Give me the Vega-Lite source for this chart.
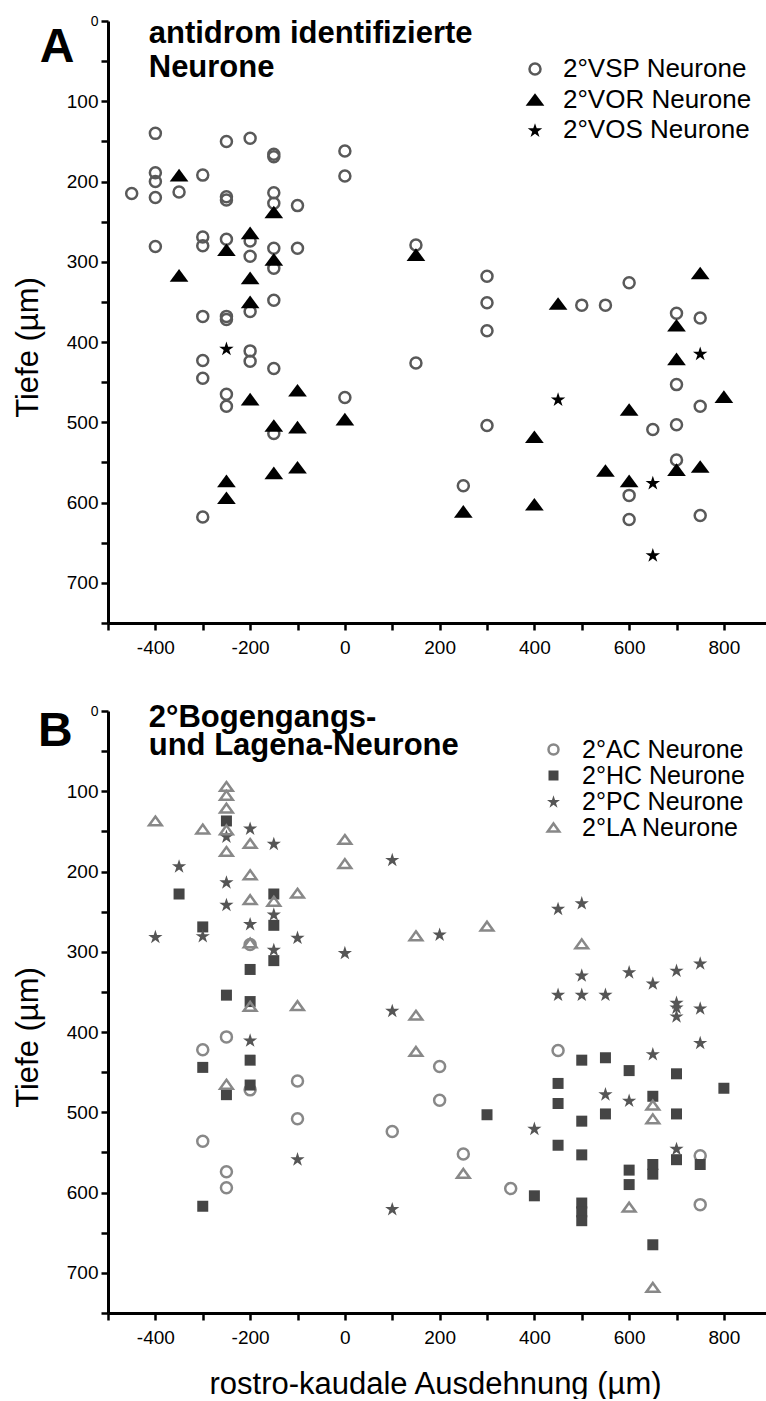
{
  "$schema": "https://vega.github.io/schema/vega-lite/v6.json",
  "padding": {"left": 12, "top": 14, "right": 0, "bottom": 0},
  "background": "#ffffff",
  "spacing": 88,
  "bounds": "flush",
  "config": {
    "font": "Liberation Sans",
    "view": {"stroke": null},
    "axis": {
      "domainColor": "#000000",
      "domainWidth": 3,
      "tickColor": "#000000",
      "tickWidth": 2.5,
      "tickSize": 7,
      "labelColor": "#000000",
      "labelFont": "Liberation Sans",
      "labelFontSize": 19,
      "labelFlush": false,
      "labelOverlap": false,
      "titleColor": "#000000",
      "titleFont": "Liberation Sans",
      "titleFontWeight": "normal",
      "titleFontSize": 31,
      "grid": false
    },
    "legend": {
      "labelColor": "#000000",
      "labelFont": "Liberation Sans",
      "labelLimit": 400
    }
  },
  "datasets": {
    "panelA": [
      {"rk": -450, "tiefe": 215, "typ": "2°VSP Neurone"},
      {"rk": -400, "tiefe": 140, "typ": "2°VSP Neurone"},
      {"rk": -400, "tiefe": 189, "typ": "2°VSP Neurone"},
      {"rk": -400, "tiefe": 200, "typ": "2°VSP Neurone"},
      {"rk": -400, "tiefe": 220, "typ": "2°VSP Neurone"},
      {"rk": -400, "tiefe": 281, "typ": "2°VSP Neurone"},
      {"rk": -350, "tiefe": 213, "typ": "2°VSP Neurone"},
      {"rk": -300, "tiefe": 192, "typ": "2°VSP Neurone"},
      {"rk": -300, "tiefe": 269, "typ": "2°VSP Neurone"},
      {"rk": -300, "tiefe": 280, "typ": "2°VSP Neurone"},
      {"rk": -300, "tiefe": 368, "typ": "2°VSP Neurone"},
      {"rk": -300, "tiefe": 423, "typ": "2°VSP Neurone"},
      {"rk": -300, "tiefe": 445, "typ": "2°VSP Neurone"},
      {"rk": -300, "tiefe": 618, "typ": "2°VSP Neurone"},
      {"rk": -250, "tiefe": 150, "typ": "2°VSP Neurone"},
      {"rk": -250, "tiefe": 219, "typ": "2°VSP Neurone"},
      {"rk": -250, "tiefe": 223, "typ": "2°VSP Neurone"},
      {"rk": -250, "tiefe": 272, "typ": "2°VSP Neurone"},
      {"rk": -250, "tiefe": 368, "typ": "2°VSP Neurone"},
      {"rk": -250, "tiefe": 372, "typ": "2°VSP Neurone"},
      {"rk": -250, "tiefe": 465, "typ": "2°VSP Neurone"},
      {"rk": -250, "tiefe": 480, "typ": "2°VSP Neurone"},
      {"rk": -200, "tiefe": 146, "typ": "2°VSP Neurone"},
      {"rk": -200, "tiefe": 274, "typ": "2°VSP Neurone"},
      {"rk": -200, "tiefe": 293, "typ": "2°VSP Neurone"},
      {"rk": -200, "tiefe": 362, "typ": "2°VSP Neurone"},
      {"rk": -200, "tiefe": 411, "typ": "2°VSP Neurone"},
      {"rk": -200, "tiefe": 424, "typ": "2°VSP Neurone"},
      {"rk": -150, "tiefe": 166, "typ": "2°VSP Neurone"},
      {"rk": -150, "tiefe": 169, "typ": "2°VSP Neurone"},
      {"rk": -150, "tiefe": 214, "typ": "2°VSP Neurone"},
      {"rk": -150, "tiefe": 227, "typ": "2°VSP Neurone"},
      {"rk": -150, "tiefe": 283, "typ": "2°VSP Neurone"},
      {"rk": -150, "tiefe": 308, "typ": "2°VSP Neurone"},
      {"rk": -150, "tiefe": 348, "typ": "2°VSP Neurone"},
      {"rk": -150, "tiefe": 433, "typ": "2°VSP Neurone"},
      {"rk": -150, "tiefe": 514, "typ": "2°VSP Neurone"},
      {"rk": -100, "tiefe": 230, "typ": "2°VSP Neurone"},
      {"rk": -100, "tiefe": 283, "typ": "2°VSP Neurone"},
      {"rk": 0, "tiefe": 162, "typ": "2°VSP Neurone"},
      {"rk": 0, "tiefe": 193, "typ": "2°VSP Neurone"},
      {"rk": 0, "tiefe": 469, "typ": "2°VSP Neurone"},
      {"rk": 150, "tiefe": 279, "typ": "2°VSP Neurone"},
      {"rk": 150, "tiefe": 426, "typ": "2°VSP Neurone"},
      {"rk": 250, "tiefe": 579, "typ": "2°VSP Neurone"},
      {"rk": 300, "tiefe": 318, "typ": "2°VSP Neurone"},
      {"rk": 300, "tiefe": 351, "typ": "2°VSP Neurone"},
      {"rk": 300, "tiefe": 386, "typ": "2°VSP Neurone"},
      {"rk": 300, "tiefe": 504, "typ": "2°VSP Neurone"},
      {"rk": 500, "tiefe": 354, "typ": "2°VSP Neurone"},
      {"rk": 550, "tiefe": 354, "typ": "2°VSP Neurone"},
      {"rk": 600, "tiefe": 326, "typ": "2°VSP Neurone"},
      {"rk": 600, "tiefe": 591, "typ": "2°VSP Neurone"},
      {"rk": 600, "tiefe": 621, "typ": "2°VSP Neurone"},
      {"rk": 650, "tiefe": 509, "typ": "2°VSP Neurone"},
      {"rk": 700, "tiefe": 364, "typ": "2°VSP Neurone"},
      {"rk": 700, "tiefe": 453, "typ": "2°VSP Neurone"},
      {"rk": 700, "tiefe": 503, "typ": "2°VSP Neurone"},
      {"rk": 700, "tiefe": 547, "typ": "2°VSP Neurone"},
      {"rk": 750, "tiefe": 370, "typ": "2°VSP Neurone"},
      {"rk": 750, "tiefe": 480, "typ": "2°VSP Neurone"},
      {"rk": 750, "tiefe": 616, "typ": "2°VSP Neurone"},
      {"rk": -350, "tiefe": 192, "typ": "2°VOR Neurone"},
      {"rk": -350, "tiefe": 317, "typ": "2°VOR Neurone"},
      {"rk": -250, "tiefe": 285, "typ": "2°VOR Neurone"},
      {"rk": -250, "tiefe": 573, "typ": "2°VOR Neurone"},
      {"rk": -250, "tiefe": 594, "typ": "2°VOR Neurone"},
      {"rk": -200, "tiefe": 264, "typ": "2°VOR Neurone"},
      {"rk": -200, "tiefe": 320, "typ": "2°VOR Neurone"},
      {"rk": -200, "tiefe": 350, "typ": "2°VOR Neurone"},
      {"rk": -200, "tiefe": 471, "typ": "2°VOR Neurone"},
      {"rk": -150, "tiefe": 238, "typ": "2°VOR Neurone"},
      {"rk": -150, "tiefe": 297, "typ": "2°VOR Neurone"},
      {"rk": -150, "tiefe": 504, "typ": "2°VOR Neurone"},
      {"rk": -150, "tiefe": 563, "typ": "2°VOR Neurone"},
      {"rk": -100, "tiefe": 460, "typ": "2°VOR Neurone"},
      {"rk": -100, "tiefe": 506, "typ": "2°VOR Neurone"},
      {"rk": -100, "tiefe": 556, "typ": "2°VOR Neurone"},
      {"rk": 0, "tiefe": 496, "typ": "2°VOR Neurone"},
      {"rk": 150, "tiefe": 291, "typ": "2°VOR Neurone"},
      {"rk": 250, "tiefe": 611, "typ": "2°VOR Neurone"},
      {"rk": 400, "tiefe": 518, "typ": "2°VOR Neurone"},
      {"rk": 400, "tiefe": 602, "typ": "2°VOR Neurone"},
      {"rk": 450, "tiefe": 352, "typ": "2°VOR Neurone"},
      {"rk": 550, "tiefe": 560, "typ": "2°VOR Neurone"},
      {"rk": 600, "tiefe": 484, "typ": "2°VOR Neurone"},
      {"rk": 600, "tiefe": 573, "typ": "2°VOR Neurone"},
      {"rk": 700, "tiefe": 379, "typ": "2°VOR Neurone"},
      {"rk": 700, "tiefe": 421, "typ": "2°VOR Neurone"},
      {"rk": 700, "tiefe": 559, "typ": "2°VOR Neurone"},
      {"rk": 750, "tiefe": 314, "typ": "2°VOR Neurone"},
      {"rk": 750, "tiefe": 555, "typ": "2°VOR Neurone"},
      {"rk": 800, "tiefe": 468, "typ": "2°VOR Neurone"},
      {"rk": -250, "tiefe": 408, "typ": "2°VOS Neurone"},
      {"rk": 450, "tiefe": 471, "typ": "2°VOS Neurone"},
      {"rk": 650, "tiefe": 575, "typ": "2°VOS Neurone"},
      {"rk": 650, "tiefe": 665, "typ": "2°VOS Neurone"},
      {"rk": 750, "tiefe": 414, "typ": "2°VOS Neurone"}
    ],
    "panelB": [
      {"rk": -300, "tiefe": 422, "typ": "2°AC Neurone"},
      {"rk": -300, "tiefe": 536, "typ": "2°AC Neurone"},
      {"rk": -250, "tiefe": 406, "typ": "2°AC Neurone"},
      {"rk": -250, "tiefe": 574, "typ": "2°AC Neurone"},
      {"rk": -250, "tiefe": 594, "typ": "2°AC Neurone"},
      {"rk": -200, "tiefe": 291, "typ": "2°AC Neurone"},
      {"rk": -200, "tiefe": 472, "typ": "2°AC Neurone"},
      {"rk": -100, "tiefe": 461, "typ": "2°AC Neurone"},
      {"rk": -100, "tiefe": 508, "typ": "2°AC Neurone"},
      {"rk": 100, "tiefe": 524, "typ": "2°AC Neurone"},
      {"rk": 200, "tiefe": 443, "typ": "2°AC Neurone"},
      {"rk": 200, "tiefe": 485, "typ": "2°AC Neurone"},
      {"rk": 250, "tiefe": 552, "typ": "2°AC Neurone"},
      {"rk": 350, "tiefe": 595, "typ": "2°AC Neurone"},
      {"rk": 450, "tiefe": 423, "typ": "2°AC Neurone"},
      {"rk": 750, "tiefe": 554, "typ": "2°AC Neurone"},
      {"rk": 750, "tiefe": 615, "typ": "2°AC Neurone"},
      {"rk": -350, "tiefe": 228, "typ": "2°HC Neurone"},
      {"rk": -300, "tiefe": 269, "typ": "2°HC Neurone"},
      {"rk": -300, "tiefe": 444, "typ": "2°HC Neurone"},
      {"rk": -300, "tiefe": 617, "typ": "2°HC Neurone"},
      {"rk": -250, "tiefe": 137, "typ": "2°HC Neurone"},
      {"rk": -250, "tiefe": 354, "typ": "2°HC Neurone"},
      {"rk": -250, "tiefe": 478, "typ": "2°HC Neurone"},
      {"rk": -200, "tiefe": 322, "typ": "2°HC Neurone"},
      {"rk": -200, "tiefe": 362, "typ": "2°HC Neurone"},
      {"rk": -200, "tiefe": 435, "typ": "2°HC Neurone"},
      {"rk": -200, "tiefe": 466, "typ": "2°HC Neurone"},
      {"rk": -150, "tiefe": 228, "typ": "2°HC Neurone"},
      {"rk": -150, "tiefe": 267, "typ": "2°HC Neurone"},
      {"rk": -150, "tiefe": 311, "typ": "2°HC Neurone"},
      {"rk": 300, "tiefe": 503, "typ": "2°HC Neurone"},
      {"rk": 400, "tiefe": 604, "typ": "2°HC Neurone"},
      {"rk": 450, "tiefe": 464, "typ": "2°HC Neurone"},
      {"rk": 450, "tiefe": 489, "typ": "2°HC Neurone"},
      {"rk": 450, "tiefe": 541, "typ": "2°HC Neurone"},
      {"rk": 500, "tiefe": 435, "typ": "2°HC Neurone"},
      {"rk": 500, "tiefe": 511, "typ": "2°HC Neurone"},
      {"rk": 500, "tiefe": 553, "typ": "2°HC Neurone"},
      {"rk": 500, "tiefe": 613, "typ": "2°HC Neurone"},
      {"rk": 500, "tiefe": 624, "typ": "2°HC Neurone"},
      {"rk": 500, "tiefe": 635, "typ": "2°HC Neurone"},
      {"rk": 550, "tiefe": 432, "typ": "2°HC Neurone"},
      {"rk": 550, "tiefe": 502, "typ": "2°HC Neurone"},
      {"rk": 600, "tiefe": 448, "typ": "2°HC Neurone"},
      {"rk": 600, "tiefe": 572, "typ": "2°HC Neurone"},
      {"rk": 600, "tiefe": 590, "typ": "2°HC Neurone"},
      {"rk": 650, "tiefe": 480, "typ": "2°HC Neurone"},
      {"rk": 650, "tiefe": 565, "typ": "2°HC Neurone"},
      {"rk": 650, "tiefe": 577, "typ": "2°HC Neurone"},
      {"rk": 650, "tiefe": 665, "typ": "2°HC Neurone"},
      {"rk": 700, "tiefe": 452, "typ": "2°HC Neurone"},
      {"rk": 700, "tiefe": 502, "typ": "2°HC Neurone"},
      {"rk": 700, "tiefe": 559, "typ": "2°HC Neurone"},
      {"rk": 750, "tiefe": 565, "typ": "2°HC Neurone"},
      {"rk": 800, "tiefe": 470, "typ": "2°HC Neurone"},
      {"rk": -400, "tiefe": 281, "typ": "2°PC Neurone"},
      {"rk": -350, "tiefe": 193, "typ": "2°PC Neurone"},
      {"rk": -300, "tiefe": 280, "typ": "2°PC Neurone"},
      {"rk": -250, "tiefe": 156, "typ": "2°PC Neurone"},
      {"rk": -250, "tiefe": 213, "typ": "2°PC Neurone"},
      {"rk": -250, "tiefe": 241, "typ": "2°PC Neurone"},
      {"rk": -200, "tiefe": 146, "typ": "2°PC Neurone"},
      {"rk": -200, "tiefe": 265, "typ": "2°PC Neurone"},
      {"rk": -200, "tiefe": 410, "typ": "2°PC Neurone"},
      {"rk": -150, "tiefe": 165, "typ": "2°PC Neurone"},
      {"rk": -150, "tiefe": 253, "typ": "2°PC Neurone"},
      {"rk": -150, "tiefe": 297, "typ": "2°PC Neurone"},
      {"rk": -100, "tiefe": 282, "typ": "2°PC Neurone"},
      {"rk": -100, "tiefe": 558, "typ": "2°PC Neurone"},
      {"rk": 0, "tiefe": 301, "typ": "2°PC Neurone"},
      {"rk": 100, "tiefe": 185, "typ": "2°PC Neurone"},
      {"rk": 100, "tiefe": 373, "typ": "2°PC Neurone"},
      {"rk": 100, "tiefe": 620, "typ": "2°PC Neurone"},
      {"rk": 200, "tiefe": 278, "typ": "2°PC Neurone"},
      {"rk": 400, "tiefe": 520, "typ": "2°PC Neurone"},
      {"rk": 450, "tiefe": 246, "typ": "2°PC Neurone"},
      {"rk": 450, "tiefe": 353, "typ": "2°PC Neurone"},
      {"rk": 500, "tiefe": 239, "typ": "2°PC Neurone"},
      {"rk": 500, "tiefe": 329, "typ": "2°PC Neurone"},
      {"rk": 500, "tiefe": 353, "typ": "2°PC Neurone"},
      {"rk": 550, "tiefe": 353, "typ": "2°PC Neurone"},
      {"rk": 550, "tiefe": 477, "typ": "2°PC Neurone"},
      {"rk": 600, "tiefe": 325, "typ": "2°PC Neurone"},
      {"rk": 600, "tiefe": 485, "typ": "2°PC Neurone"},
      {"rk": 650, "tiefe": 339, "typ": "2°PC Neurone"},
      {"rk": 650, "tiefe": 427, "typ": "2°PC Neurone"},
      {"rk": 700, "tiefe": 323, "typ": "2°PC Neurone"},
      {"rk": 700, "tiefe": 363, "typ": "2°PC Neurone"},
      {"rk": 700, "tiefe": 369, "typ": "2°PC Neurone"},
      {"rk": 700, "tiefe": 380, "typ": "2°PC Neurone"},
      {"rk": 700, "tiefe": 545, "typ": "2°PC Neurone"},
      {"rk": 750, "tiefe": 314, "typ": "2°PC Neurone"},
      {"rk": 750, "tiefe": 370, "typ": "2°PC Neurone"},
      {"rk": 750, "tiefe": 413, "typ": "2°PC Neurone"},
      {"rk": -400, "tiefe": 137, "typ": "2°LA Neurone"},
      {"rk": -300, "tiefe": 147, "typ": "2°LA Neurone"},
      {"rk": -250, "tiefe": 94, "typ": "2°LA Neurone"},
      {"rk": -250, "tiefe": 105, "typ": "2°LA Neurone"},
      {"rk": -250, "tiefe": 121, "typ": "2°LA Neurone"},
      {"rk": -250, "tiefe": 148, "typ": "2°LA Neurone"},
      {"rk": -250, "tiefe": 175, "typ": "2°LA Neurone"},
      {"rk": -250, "tiefe": 465, "typ": "2°LA Neurone"},
      {"rk": -200, "tiefe": 165, "typ": "2°LA Neurone"},
      {"rk": -200, "tiefe": 204, "typ": "2°LA Neurone"},
      {"rk": -200, "tiefe": 235, "typ": "2°LA Neurone"},
      {"rk": -200, "tiefe": 289, "typ": "2°LA Neurone"},
      {"rk": -200, "tiefe": 368, "typ": "2°LA Neurone"},
      {"rk": -150, "tiefe": 237, "typ": "2°LA Neurone"},
      {"rk": -100, "tiefe": 227, "typ": "2°LA Neurone"},
      {"rk": -100, "tiefe": 367, "typ": "2°LA Neurone"},
      {"rk": 0, "tiefe": 160, "typ": "2°LA Neurone"},
      {"rk": 0, "tiefe": 190, "typ": "2°LA Neurone"},
      {"rk": 150, "tiefe": 280, "typ": "2°LA Neurone"},
      {"rk": 150, "tiefe": 379, "typ": "2°LA Neurone"},
      {"rk": 150, "tiefe": 424, "typ": "2°LA Neurone"},
      {"rk": 250, "tiefe": 576, "typ": "2°LA Neurone"},
      {"rk": 300, "tiefe": 268, "typ": "2°LA Neurone"},
      {"rk": 500, "tiefe": 290, "typ": "2°LA Neurone"},
      {"rk": 600, "tiefe": 618, "typ": "2°LA Neurone"},
      {"rk": 650, "tiefe": 491, "typ": "2°LA Neurone"},
      {"rk": 650, "tiefe": 508, "typ": "2°LA Neurone"},
      {"rk": 650, "tiefe": 718, "typ": "2°LA Neurone"}
    ]
  },
  "resolve": {
    "scale": {"shape": "independent", "fill": "independent", "stroke": "independent"},
    "legend": {"shape": "independent", "fill": "independent", "stroke": "independent"}
  },
  "vconcat": [
    {
      "width": 659,
      "height": 602,
      "layer": [
        {
          "data": {"name": "panelA"},
          "mark": {"type": "point", "size": 121, "strokeWidth": 2.5, "opacity": 1},
          "encoding": {
            "x": {
              "field": "rk", "type": "quantitative",
              "scale": {"domain": [-500, 891], "nice": false, "zero": false},
              "axis": {
                "title": null,
                "values": [-500, -400, -300, -200, -100, 0, 100, 200, 300, 400, 500, 600, 700, 800],
                "labelExpr": "datum.value % 200 === 0 ? '' + datum.value : ''",
                "labelPadding": 8
              }
            },
            "y": {
              "field": "tiefe", "type": "quantitative",
              "scale": {"domain": [0, 750], "reverse": true, "nice": false, "zero": false},
              "axis": {
                "title": "Tiefe (µm)",
                "values": [0, 50, 100, 150, 200, 250, 300, 350, 400, 450, 500, 550, 600, 650, 700, 750],
                "labelExpr": "datum.value % 100 === 0 && datum.value < 750 ? '' + datum.value : ''",
                "labelFontSize": {"condition": {"test": "datum.value === 0", "value": 14}, "value": 19},
                "labelPadding": 3,
                "titleAngle": -90, "titleAlign": "center", "titleBaseline": "middle",
                "titleX": -80, "titleY": 326
              }
            },
            "shape": {
              "field": "typ", "type": "nominal",
              "scale": {
                "domain": ["2°VSP Neurone", "2°VOR Neurone", "2°VOS Neurone"],
                "range": [
                  "circle",
                  "M0,-1.15L1.7,1.15L-1.7,1.15Z",
                  "M0,-1.25L0.311,-0.296L1.315,-0.296L0.502,0.296L0.813,1.25L0,0.661L-0.813,1.25L-0.502,0.296L-1.315,-0.296L-0.311,-0.296Z"
                ]
              },
              "legend": {
                "title": null, "orient": "none", "legendX": 414, "legendY": 35,
                "labelFontSize": 26, "labelOffset": 15, "rowPadding": 4.5,
                "symbolSize": 121, "symbolStrokeWidth": 2.5
              }
            },
            "fill": {
              "field": "typ", "type": "nominal",
              "scale": {"domain": ["2°VSP Neurone", "2°VOR Neurone", "2°VOS Neurone"], "range": ["transparent", "#000000", "#000000"]}
            },
            "stroke": {
              "field": "typ", "type": "nominal",
              "scale": {"domain": ["2°VSP Neurone", "2°VOR Neurone", "2°VOS Neurone"], "range": ["#595959", "transparent", "transparent"]}
            }
          }
        },
        {
          "data": {"values": [{}]},
          "mark": {
            "type": "text", "text": "A",
            "align": "left", "baseline": "alphabetic",
            "font": "Liberation Sans", "fontSize": 48, "fontWeight": "bold", "color": "#000000"
          },
          "encoding": {
            "x": {"datum": -644, "type": "quantitative"},
            "y": {"datum": 51, "type": "quantitative"}
          }
        },
        {
          "data": {"values": [{}]},
          "mark": {
            "type": "text", "text": ["antidrom identifizierte", "Neurone"],
            "align": "left", "baseline": "alphabetic", "lineHeight": 34,
            "font": "Liberation Sans", "fontSize": 31, "fontWeight": "bold", "color": "#000000"
          },
          "encoding": {
            "x": {"datum": -414, "type": "quantitative"},
            "y": {"datum": 27.5, "type": "quantitative"}
          }
        }
      ]
    },
    {
      "width": 659,
      "height": 602,
      "layer": [
        {
          "data": {"name": "panelB"},
          "mark": {"type": "point", "size": 121, "strokeWidth": 2.5, "opacity": 1},
          "encoding": {
            "x": {
              "field": "rk", "type": "quantitative",
              "scale": {"domain": [-500, 891], "nice": false, "zero": false},
              "axis": {
                "title": "rostro-kaudale Ausdehnung (µm)",
                "values": [-500, -400, -300, -200, -100, 0, 100, 200, 300, 400, 500, 600, 700, 800],
                "labelExpr": "datum.value % 200 === 0 ? '' + datum.value : ''",
                "labelPadding": 8,
                "titleFontSize": 31,
                "titleAlign": "center", "titleBaseline": "alphabetic",
                "titleX": 327, "titleY": 80
              }
            },
            "y": {
              "field": "tiefe", "type": "quantitative",
              "scale": {"domain": [0, 750], "reverse": true, "nice": false, "zero": false},
              "axis": {
                "title": "Tiefe (µm)",
                "values": [0, 50, 100, 150, 200, 250, 300, 350, 400, 450, 500, 550, 600, 650, 700, 750],
                "labelExpr": "datum.value % 100 === 0 && datum.value < 750 ? '' + datum.value : ''",
                "labelFontSize": {"condition": {"test": "datum.value === 0", "value": 14}, "value": 19},
                "labelPadding": 3,
                "titleAngle": -90, "titleAlign": "center", "titleBaseline": "middle",
                "titleX": -80, "titleY": 326
              }
            },
            "shape": {
              "field": "typ", "type": "nominal",
              "scale": {
                "domain": ["2°AC Neurone", "2°HC Neurone", "2°PC Neurone", "2°LA Neurone"],
                "range": [
                  "circle",
                  "square",
                  "M0,-1.23L0.306,-0.29L1.293,-0.29L0.493,0.29L0.8,1.23L0,0.649L-0.8,1.23L-0.493,0.29L-1.293,-0.29L-0.306,-0.29Z",
                  "M0,-0.8L1.15,0.8L-1.15,0.8Z"
                ]
              },
              "legend": {
                "title": null, "orient": "none", "legendX": 433, "legendY": 26,
                "labelFontSize": 25, "labelOffset": 16, "rowPadding": -0.5,
                "symbolSize": 100, "symbolStrokeWidth": 2.5
              }
            },
            "fill": {
              "field": "typ", "type": "nominal",
              "scale": {"domain": ["2°AC Neurone", "2°HC Neurone", "2°PC Neurone", "2°LA Neurone"], "range": ["transparent", "#454545", "#555555", "transparent"]}
            },
            "stroke": {
              "field": "typ", "type": "nominal",
              "scale": {"domain": ["2°AC Neurone", "2°HC Neurone", "2°PC Neurone", "2°LA Neurone"], "range": ["#888888", "transparent", "transparent", "#888888"]}
            }
          }
        },
        {
          "data": {"values": [{}]},
          "mark": {
            "type": "text", "text": "B",
            "align": "left", "baseline": "alphabetic",
            "font": "Liberation Sans", "fontSize": 48, "fontWeight": "bold", "color": "#000000"
          },
          "encoding": {
            "x": {"datum": -648, "type": "quantitative"},
            "y": {"datum": 44, "type": "quantitative"}
          }
        },
        {
          "data": {"values": [{}]},
          "mark": {
            "type": "text", "text": ["2°Bogengangs-", "und Lagena-Neurone"],
            "align": "left", "baseline": "alphabetic", "lineHeight": 28,
            "font": "Liberation Sans", "fontSize": 31, "fontWeight": "bold", "color": "#000000"
          },
          "encoding": {
            "x": {"datum": -414, "type": "quantitative"},
            "y": {"datum": 20, "type": "quantitative"}
          }
        }
      ]
    }
  ]
}
